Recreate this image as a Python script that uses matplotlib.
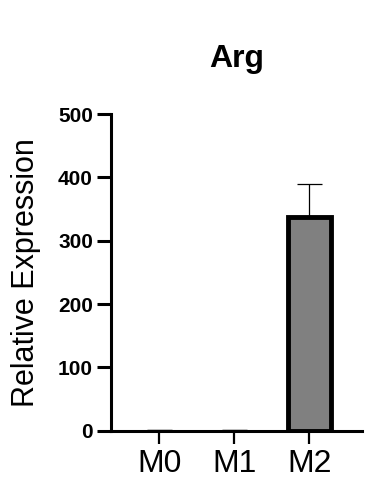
import matplotlib
matplotlib.use("Agg")
import matplotlib.pyplot as plt

categories = ["M0", "M1", "M2"]
values = [1.0, 1.0, 337.0]
errors_upper = [0.0, 0.0, 52.0]
yticks = [0, 100, 200, 300, 400, 500]
title = "Arg"
ylabel = "Relative Expression"

plt.rcParams['font.family'] = ['Liberation Sans', 'DejaVu Sans']

fig = plt.figure(figsize=(3.89, 4.99), dpi=100)
ax = fig.add_axes([111/389, 68.3/499, 251/389, 316.7/499])

x = list(range(len(categories)))
lws = [3.5 if v > 5 else 0 for v in values]
ax.bar(x, values, width=0.57, color="#808080", edgecolor="black", linewidth=lws, zorder=2)
ax.errorbar(x, values, yerr=[[0]*len(values), errors_upper], fmt="none", ecolor="black",
            elinewidth=0.9, capsize=9, capthick=0.9, zorder=1)

ax.set_xlim(-0.644, 2.70)
ax.set_ylim(0, 500)
ax.set_yticks(yticks)
ax.set_yticklabels([str(t) for t in yticks], fontsize=15, fontweight="bold")
ax.set_xticks(x)
ax.set_xticklabels(categories, fontsize=23)

for s in ["top", "right"]:
    ax.spines[s].set_visible(False)
for s in ["left", "bottom"]:
    ax.spines[s].set_linewidth(2.2)
ax.tick_params(axis="y", length=10, width=2.2, pad=3)
ax.tick_params(axis="x", length=9, width=1.6, pad=4)

ax.set_ylabel(ylabel, fontsize=22)
ax.yaxis.set_label_coords(-0.28, 0.5)
ax.set_title(title, fontsize=23, fontweight="bold", pad=34)

fig.savefig("out.png", dpi=100)
